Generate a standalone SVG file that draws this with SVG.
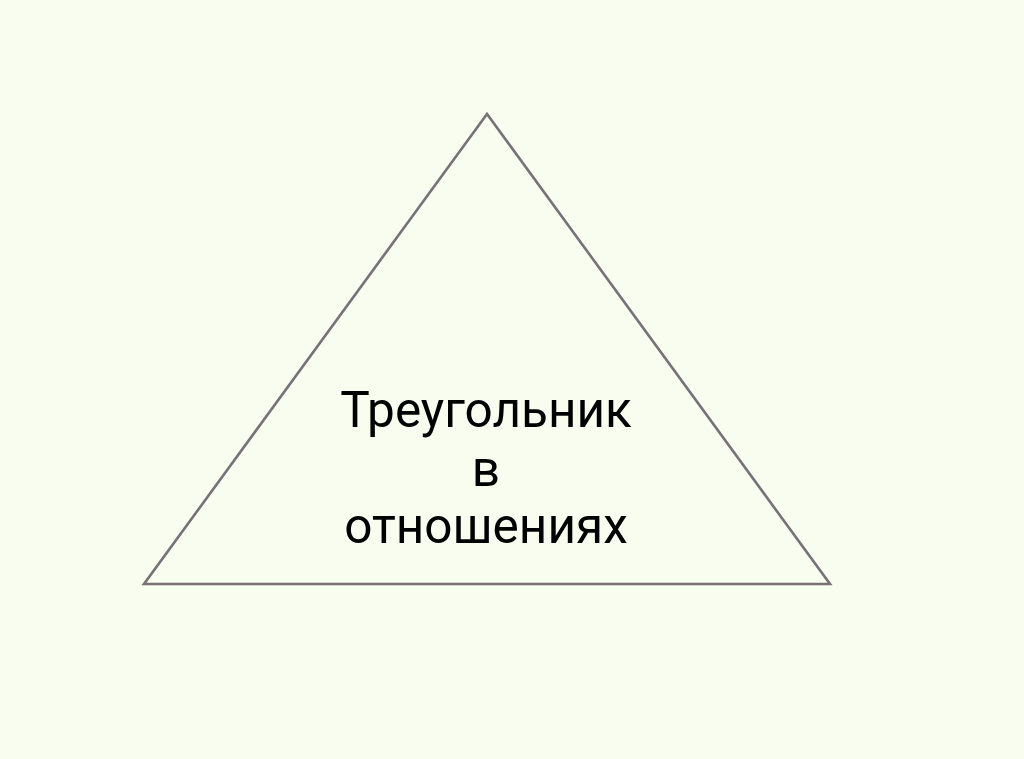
<svg xmlns="http://www.w3.org/2000/svg" width="1024" height="759" viewBox="0 0 1024 759">
<style>
.shape{fill:none;stroke:#767276;stroke-width:2.6;stroke-linejoin:miter}
.lbl{font-family:Roboto,"Liberation Sans",sans-serif;font-size:49.5px;fill:#000;text-anchor:middle}
</style>
<rect x="0" y="0" width="1024" height="759" fill="#f8fdf0"/>
<g id="triangle">
<polygon class="shape" points="487,114 144,584 830,584"/>
<text class="lbl" x="486" y="427">Треугольник</text>
<text class="lbl" x="486" y="486">в</text>
<text class="lbl" x="486" y="543">отношениях</text>
</g>
<g id="connectors"></g>
</svg>
